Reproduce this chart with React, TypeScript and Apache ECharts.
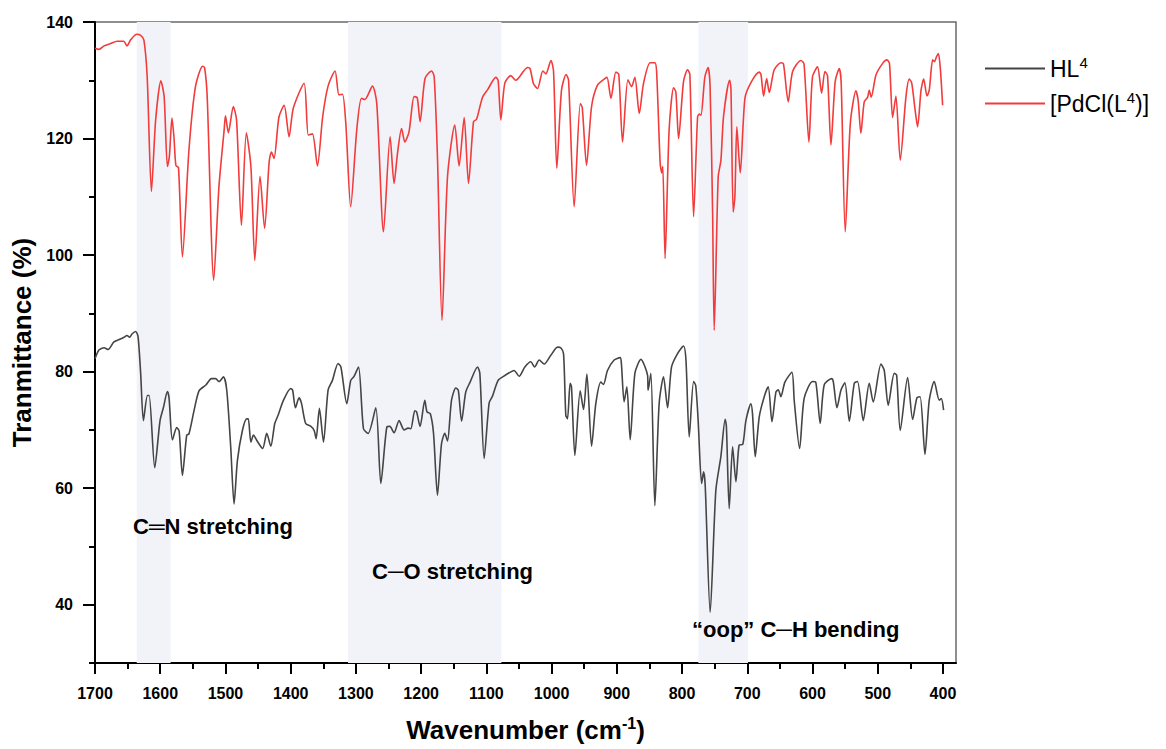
import React, { useEffect, useRef } from "react";
import * as echarts from "echarts";

// ---- Data (wavenumber cm-1, transmittance %) ----
const hlWavenumber = [1700,1694,1686,1680,1671,1663,1655.5,1651,1647,1643,1637.6,1634,1630,1625.8,1619.6,1617,1608.4,1600.3,1595,1589,1586.5,1581.3,1574.7,1571,1566,1559.4,1556,1548,1540.5,1530,1521.5,1515,1510,1503,1498,1491.9,1486.8,1481.6,1474,1467.4,1465,1461,1457,1451,1443,1436.7,1430.5,1424.4,1419.3,1411,1399.9,1397,1392.7,1387.2,1383.5,1377,1369,1364,1361,1356,1349.7,1342.7,1336,1327.4,1323,1314,1307.9,1302.8,1296,1288.4,1281.3,1269.5,1261.8,1252.6,1248,1241.5,1233.8,1226.1,1220,1215.9,1209.7,1207,1201.6,1194.4,1191,1186,1181,1175,1168.8,1163.7,1159.6,1153.4,1146.8,1143,1138,1131.6,1124.9,1113.6,1110,1103.4,1095.8,1090.6,1082,1073.7,1065,1057.5,1049.8,1041,1031.9,1026,1019,1011.4,1001.2,990.9,986,981.7,978.2,975.6,971.6,969.5,964.3,956.2,951,945.9,938.7,932.2,924.5,920.5,914.3,904.1,894.9,893,888.8,884.6,879.5,872.3,863.1,852.9,852,847.8,841.7,835.1,828.4,822.2,816.1,806.9,797.7,794,789,782.3,779,775.3,770,767,764.5,756.9,748.2,740.5,733.9,732,727.7,722.5,717.4,712.4,707,702.1,694.4,692,687.8,681.7,674,667.9,662.2,656.1,652.5,648.5,642.3,631.6,628,619.8,612.8,600,595,588.2,582.1,570.7,568,562.5,556.4,550.3,543.6,536,531,522.2,513,506.9,495,490,483.9,474.7,471,465.5,454.2,446.5,439.9,435,427.6,421,413.4,405.7,402.5,399];
const hlTransmittance = [82.2,83.7,84.1,83.8,85.1,85.5,85.9,86.2,85.9,86.5,86.9,86.0,79.7,71.6,75.9,75.9,63.5,71.6,73.9,76.6,75.5,68.3,70.4,69.8,62.2,69.1,69.3,73.4,76.7,77.7,78.8,78.8,78.3,79.1,76.8,67.0,57.3,64.8,69.9,71.9,71.9,67.9,69.1,68.0,66.8,69.4,67.2,71.1,72.5,75.1,77.1,76.8,73.8,75.5,74.6,71.1,70.6,69.9,68.5,73.7,67.9,76.8,78.5,81.4,80.8,74.5,78.5,79.2,80.8,70.2,69.4,73.8,60.8,70.5,70.6,69.5,71.6,70.0,70.3,70.2,73.3,73.1,70.6,75.1,73.1,72.8,69.4,58.8,67.6,69.4,68.1,75.1,77.2,76.8,71.5,76.5,78.2,80.8,79.7,65.1,74.6,75.8,78.5,79.2,79.8,80.2,79.2,80.8,81.7,80.8,82.0,81.3,82.8,84.2,84.1,83.1,72.5,71.9,78.0,77.4,65.6,76.7,73.5,79.6,67.2,74.5,78.2,77.8,80.2,82.0,82.4,81.4,74.8,77.4,68.3,79.7,82.1,79.4,76.8,79.7,57.0,74.5,79.1,73.8,80.8,83.1,84.4,82.0,68.8,78.3,77.6,71.6,60.8,62.8,60.5,38.7,59.6,65.4,71.8,70.6,56.5,67.1,61.1,67.4,67.5,71.6,74.5,72.8,65.4,72.2,75.7,77.4,71.4,76.5,76.9,75.7,78.2,79.9,75.0,66.8,75.4,78.3,78.2,71.1,77.7,78.8,78.2,73.8,76.8,78.1,71.5,78.0,78.3,71.6,78.0,74.8,81.3,80.2,74.2,79.7,79.4,69.9,79.0,71.8,75.5,75.7,65.8,75.1,78.3,75.1,75.4,73.4];

const pdWavenumber = [1700,1694,1686,1676,1666,1656,1651,1645,1636,1630,1625,1620,1613.5,1607,1599,1594,1589,1586,1582,1579,1576,1572,1566,1556,1546,1535,1532,1528,1518,1510,1502,1500,1495.5,1488,1483,1475.5,1468,1461,1455,1447,1440,1433,1429.5,1425.5,1418,1410,1402.5,1396,1379.5,1373,1366.6,1359,1351,1342.7,1332,1326,1320.6,1315.5,1308,1298.7,1291.5,1286.4,1274.6,1268,1257.7,1247.6,1241.5,1236.3,1230,1225,1218.5,1210.8,1206,1201.6,1194,1184,1180,1175,1168,1159.6,1148.4,1141.8,1134,1127.4,1119.7,1115,1105.9,1098,1085.5,1082,1077.8,1071.7,1062.5,1055,1036.9,1033,1027.7,1021.6,1013.4,1008.8,1001,997,992,984.8,977.7,974,965.4,956,953,946.4,938.7,929.5,918.3,915,909,901.5,897,891.2,883,877.4,872.3,865.6,859,848.9,841.7,839,833.5,831,829.5,826,819.8,813,809.5,805.3,797.7,791.5,788,782.3,776.2,773.5,771,765,760,757,753.2,750.7,744.6,740.4,736.3,727,725,721.6,719,716,710.8,703.6,694.4,681.7,679,675,670.3,666.3,658.7,648.4,644.5,637.2,630.5,617.8,613,605.5,600,592.3,586,581,577,571.7,565.2,559,556,549.8,542,533.4,530,525.8,520.7,515.5,513,510,502.7,492.5,485.9,482,477.2,472.1,465.5,456.7,451.7,448,443,438.9,433.6,429.5,424.5,421,415.8,413,410,407,404,400.5];
const pdTransmittance = [135.5,135.3,135.9,136.3,136.7,136.7,135.9,137.0,137.9,137.7,136.9,130.6,110.9,123.2,129.9,127.2,115.2,116.9,123.5,120.3,115.4,115.0,99.7,118.0,128.9,132.4,132.2,127.2,95.7,111.7,121.5,123.9,121.0,125.5,123.2,105.1,121.0,115.2,99.1,113.5,104.6,116.0,117.7,116.6,123.7,125.7,120.3,125.2,129.5,120.6,120.8,115.3,123.7,129.0,131.6,127.5,127.6,122.6,108.3,121.5,126.9,126.7,129.0,126.0,104.0,120.3,112.3,117.4,121.7,119.4,121.2,127.2,127.0,122.9,130.3,131.6,130.6,116.9,88.8,113.4,122.3,115.3,123.6,112.3,122.9,123.3,127.1,128.4,130.5,130.0,123.2,129.5,130.8,130.0,132.2,132.0,129.4,128.6,131.6,131.1,133.4,131.5,114.9,128.3,131.0,130.0,108.3,126.0,125.3,115.4,125.5,129.2,130.3,130.5,126.9,131.4,131.0,119.4,130.1,128.9,130.5,124.3,129.5,133.0,133.0,131.5,115.7,114.1,115.2,99.4,121.5,128.7,128.0,120.0,129.8,131.8,131.0,106.6,123.7,124.2,124.0,130.6,132.2,128.9,107.7,87.1,113.4,116.3,123.9,130.0,128.5,107.4,110.0,122.0,114.1,126.9,129.6,131.4,131.0,127.3,130.3,127.9,131.8,133.0,132.8,126.3,131.5,133.4,132.8,119.4,130.6,132.3,127.8,131.5,130.8,118.9,129.8,132.0,129.5,104.0,122.6,128.2,126.5,120.9,126.3,127.1,128.3,127.1,130.9,132.9,133.5,132.9,123.6,127.3,116.3,127.2,130.2,129.6,125.2,122.0,128.3,130.2,127.3,128.3,133.5,133.2,134.0,134.6,132.0,125.7];

const seriesNames = ["HL4", "[PdCl(L4)]"];
const xMajorTicks = [1700, 1600, 1500, 1400, 1300, 1200, 1100, 1000, 900, 800, 700, 600, 500, 400];
const xMinorTicks = [1650, 1550, 1450, 1350, 1250, 1150, 1050, 950, 850, 750, 650, 550, 450];
const yMajorTicks = [40, 60, 80, 100, 120, 140];
const yMinorTicks = [30, 50, 70, 90, 110, 130];
const bands = [
  [1636, 1584],
  [1312, 1077],
  [775, 699],
];
const bandLabels = ["C\u2550N stretching", "C\u2500O stretching", "\u201Coop\u201D C\u2500H bending"];

const FONT = 'Arial, "Liberation Sans", Helvetica, sans-serif';

export default function App() {
  const ref = useRef<HTMLDivElement>(null);
  useEffect(() => {
    if (!ref.current) return;
    const chart = echarts.init(ref.current, undefined, { renderer: "svg" });
    const hlData = hlWavenumber.map((w, i) => [w, hlTransmittance[i]]);
    const pdData = pdWavenumber.map((w, i) => [w, pdTransmittance[i]]);
    const xBase = { type: "value", min: 380, max: 1700, inverse: true, gridIndex: 0 };
    const yBase = { type: "value", min: 30, max: 140, gridIndex: 0 };
    const annStyle = { fontFamily: FONT, fontSize: 22, fontWeight: "bold", fill: "#000" };
    chart.setOption({
      animation: false,
      backgroundColor: "#fff",
      grid: {
        left: 95, right: 210, top: 22, bottom: 86,
        outerBoundsMode: "none",
        containLabel: false,
        show: true, borderColor: "#6a6a6a", borderWidth: 1.5, backgroundColor: "transparent",
      },
      legend: {
        orient: "vertical",
        left: 980,
        top: 50,
        itemWidth: 60,
        itemHeight: 14,
        itemGap: 10,
        icon: "path://M0,6 L60,6 L60,8 L0,8 Z",
        formatter: (n: string) => (n === "HL4" ? "HL{sup|4}" : "[PdCl(L{sup|4})]"),
        textStyle: {
          fontFamily: FONT,
          fontSize: 23,
          color: "#000",
          rich: { sup: { fontFamily: FONT, fontSize: 15, color: "#000", verticalAlign: "top", padding: [0, 0, 12, 0] } },
        },
      },
      xAxis: [
        {
          ...xBase,
          position: "bottom",
          name: "Wavenumber (cm{sup|-1})",
          nameLocation: "middle",
          nameGap: 52,
          nameTextStyle: {
            fontFamily: FONT, fontSize: 26, fontWeight: "bold", color: "#000",
            rich: { sup: { fontFamily: FONT, fontSize: 16, fontWeight: "bold", color: "#000", padding: [0, 0, 14, 0] } },
          },
          axisLine: { show: true, onZero: false, lineStyle: { color: "#000", width: 2 } },
          axisTick: { show: true, customValues: xMajorTicks, length: 11, lineStyle: { color: "#000", width: 2 } },
          axisLabel: {
            customValues: xMajorTicks, margin: 22, fontFamily: FONT, fontSize: 16, fontWeight: "bold", color: "#000",
            formatter: (v: number) => String(v),
          },
          splitLine: { show: false },
        },
        {
          ...xBase,
          position: "bottom",
          axisLine: { show: false },
          axisTick: { show: true, customValues: xMinorTicks, length: 6, lineStyle: { color: "#000", width: 2 } },
          axisLabel: { show: false },
          splitLine: { show: false },
        },
      ],
      yAxis: [
        {
          ...yBase,
          position: "left",
          name: "Tranmittance (%)",
          nameLocation: "middle",
          nameGap: 57,
          nameTextStyle: { fontFamily: FONT, fontSize: 26, fontWeight: "bold", color: "#000" },
          axisLine: { show: true, onZero: false, lineStyle: { color: "#000", width: 2 } },
          axisTick: { show: true, customValues: yMajorTicks, length: 12, lineStyle: { color: "#000", width: 2 } },
          axisLabel: {
            customValues: yMajorTicks, margin: 22, fontFamily: FONT, fontSize: 16, fontWeight: "bold", color: "#000",
            formatter: (v: number) => String(v),
          },
          splitLine: { show: false },
        },
        {
          ...yBase,
          position: "left",
          axisLine: { show: false },
          axisTick: { show: true, customValues: yMinorTicks, length: 6, lineStyle: { color: "#000", width: 2 } },
          axisLabel: { show: false },
          splitLine: { show: false },
        },
      ],
      series: [
        {
          name: seriesNames[0],
          type: "line",
          data: hlData,
          showSymbol: false,
          symbol: "none",
          smooth: 0.25,
          z: 3,
          lineStyle: { color: "#454545", width: 1.6 },
          itemStyle: { color: "#454545" },
          markArea: {
            silent: true,
            z: 1,
            itemStyle: { color: "#f2f3f9" },
            data: bands.map(([a, b]) => [{ xAxis: a }, { xAxis: b }]),
          },
        },
        {
          name: seriesNames[1],
          type: "line",
          data: pdData,
          showSymbol: false,
          symbol: "none",
          smooth: 0.25,
          z: 4,
          lineStyle: { color: "#f23b3b", width: 1.6 },
          itemStyle: { color: "#f23b3b" },
        },
      ],
      graphic: [
        { type: "text", z: 100, left: 133, top: 515, style: { text: bandLabels[0], ...annStyle } },
        { type: "text", z: 100, left: 372, top: 560, style: { text: bandLabels[1], ...annStyle } },
        { type: "text", z: 100, left: 692, top: 618, style: { text: bandLabels[2], ...annStyle } },
      ],
    });
    return () => chart.dispose();
  }, []);
  return <div ref={ref} style={{ width: 1166, height: 749, position: "absolute", left: 0, top: 0 }} />;
}
